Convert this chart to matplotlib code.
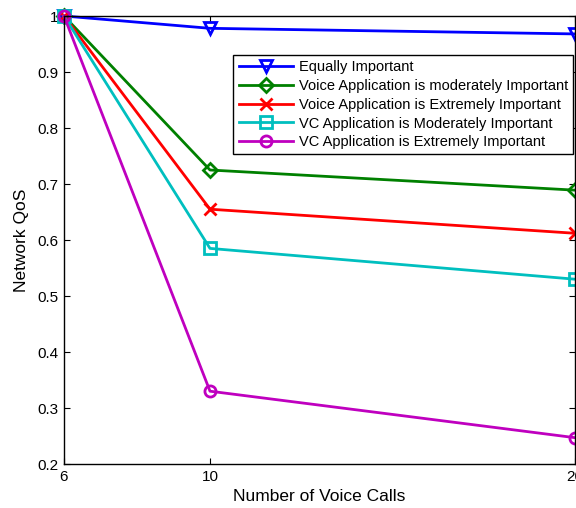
import matplotlib
matplotlib.use("Agg")
import matplotlib.pyplot as plt

plt.rcParams.update({
    "font.family": ["Liberation Sans", "DejaVu Sans"],
    "font.size": 11,
    "axes.linewidth": 1.0,
})

# data
voice_calls = [6, 10, 20]
equally = [1.0, 0.978, 0.968]
voice_moderate = [1.0, 0.725, 0.689]
voice_extreme = [1.0, 0.655, 0.612]
vc_moderate = [1.0, 0.585, 0.530]
vc_extreme = [1.0, 0.330, 0.247]

series_labels = [
    "Equally Important",
    "Voice Application is moderately Important",
    "Voice Application is Extremely Important",
    "VC Application is Moderately Important",
    "VC Application is Extremely Important",
]
series_values = [equally, voice_moderate, voice_extreme, vc_moderate, vc_extreme]
colors = ["#0000ff", "#008000", "#ff0000", "#00bfbf", "#bf00bf"]
markers = ["v", "D", "x", "s", "o"]

fig = plt.figure(figsize=(5.76, 5.08), dpi=100)
ax = fig.add_axes([64 / 576, 44 / 508, 511 / 576, 448 / 508])

for vals, lab, col, mk in zip(series_values, series_labels, colors, markers):
    ax.plot(voice_calls, vals, color=col, linewidth=2, marker=mk,
            markersize=8 if mk != "D" else 7, markerfacecolor="none",
            markeredgewidth=2, label=lab, clip_on=False)

ax.set_xlim(6, 20)
ax.set_ylim(0.2, 1.0)
ax.set_xticks(voice_calls)
ax.set_yticks([0.2, 0.3, 0.4, 0.5, 0.6, 0.7, 0.8, 0.9, 1.0])
ax.set_yticklabels(["0.2", "0.3", "0.4", "0.5", "0.6", "0.7", "0.8", "0.9", "1"])
ax.tick_params(direction="in", top=True, right=True, length=4, pad=4)
ax.set_xlabel("Number of Voice Calls", fontsize=12.5, labelpad=4)
ax.set_ylabel("Network QoS", fontsize=12.5, labelpad=6)

leg = ax.legend(loc="upper right", bbox_to_anchor=(0.997, 0.913),
                borderaxespad=0, fancybox=False, edgecolor="black",
                framealpha=1, handlelength=3.7, borderpad=0.35,
                labelspacing=0.33, handletextpad=0.45, fontsize=10.5)
leg.get_frame().set_linewidth(1.0)

fig.savefig("out.png", dpi=100)
